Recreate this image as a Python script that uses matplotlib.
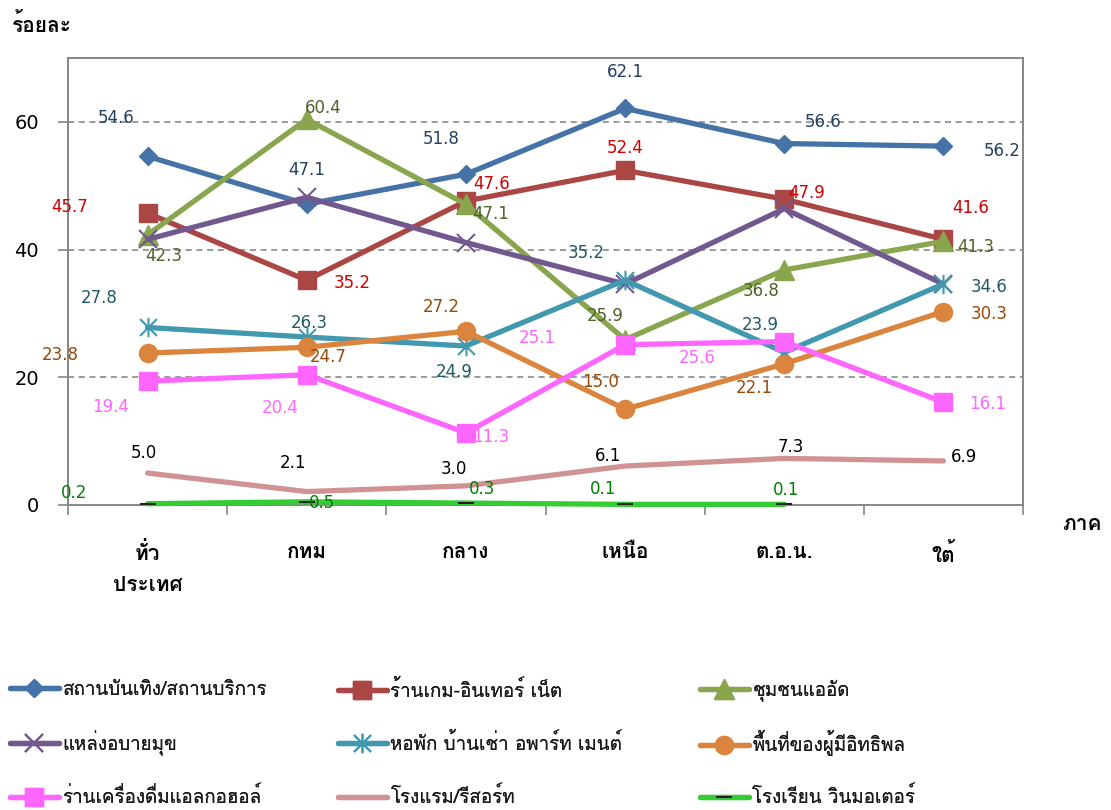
import matplotlib
matplotlib.use("Agg")
import matplotlib.pyplot as plt
from matplotlib.path import Path
from matplotlib import font_manager
from matplotlib.font_manager import FontProperties
import numpy as np

# ---------------- data ----------------
categories = ["ทั่ว\nประเทศ", "กทม", "กลาง", "เหนือ", "ต.อ.น.", "ใต้"]
entertainment = [54.6, 47.1, 51.8, 62.1, 56.6, 56.2]
game_internet = [45.7, 35.2, 47.6, 52.4, 47.9, 41.6]
slums = [42.3, 60.4, 47.1, 25.9, 36.8, 41.3]
vice_dens = [41.6, 48.2, 41.1, 34.6, 46.4, 34.6]
dormitory = [27.8, 26.3, 24.9, 35.2, 23.9, 34.6]
influential = [23.8, 24.7, 27.2, 15.0, 22.1, 30.3]
liquor_shops = [19.4, 20.4, 11.3, 25.1, 25.6, 16.1]
hotels = [5.0, 2.1, 3.0, 6.1, 7.3, 6.9]
motorbike_school = [0.2, 0.5, 0.3, 0.1, 0.1]

series_names = [
    "สถานบันเทิง/สถานบริการ",
    "ร้านเกม-อินเทอร์ เน็ต",
    "ชุมชนแออัด",
    "แหล่งอบายมุข",
    "หอพัก บ้านเช่า อพาร์ท เมนต์",
    "พื้นที่ของผู้มีอิทธิพล",
    "ร่านเครื่องดื่มแอลกอฮอล์",
    "โรงแรม/รีสอร์ท",
    "โรงเรียน วินมอเตอร์",
]
series_values = [entertainment, game_internet, slums, vice_dens, dormitory,
                 influential, liquor_shops, hotels, motorbike_school]
show_labels = [True, True, True, False, True, True, True, True, True]
y_title = "ร้อยละ"
x_title = "ภาค"
y_ticks = [0, 20, 40, 60]

# ---------------- fonts ----------------
def find_font(family, want_bold):
    for f in font_manager.fontManager.ttflist:
        if f.name != family or f.style != 'normal':
            continue
        fn = f.fname.lower()
        is_bold = 'bold' in fn
        if is_bold == want_bold and 'oblique' not in fn and 'italic' not in fn:
            return f.fname
    return None

reg_path = find_font('Loma', False)
bold_path = find_font('Loma', True)

def thai_fp(size, bold=False):
    p = bold_path if bold else reg_path
    if p:
        return FontProperties(fname=p, size=size)
    return FontProperties(family=['Loma', 'DejaVu Sans'], size=size,
                          weight='bold' if bold else 'normal')

NUM = ['DejaVu Sans']
plt.rcParams['font.family'] = ['Loma', 'DejaVu Sans']

asterisk = Path([(-1, -1), (1, 1), (-1, 1), (1, -1), (0, -1.15), (0, 1.15)],
                [Path.MOVETO, Path.LINETO, Path.MOVETO, Path.LINETO, Path.MOVETO, Path.LINETO])

styles = [
    dict(color='#4572A7', marker='D', ms=9, mec='#4572A7', mew=1),
    dict(color='#AA4643', marker='s', ms=13, mec='#AA4643', mew=1),
    dict(color='#89A54E', marker='^', ms=14, mec='#89A54E', mew=1),
    dict(color='#71588F', marker='x', ms=13, mec='#71588F', mew=1.5),
    dict(color='#4198AF', marker=asterisk, ms=14, mec='#4198AF', mew=1.5),
    dict(color='#DB843D', marker='o', ms=13, mec='#DB843D', mew=1),
    dict(color='#FF66FF', marker='s', ms=13, mec='#FF66FF', mew=1),
    dict(color='#D09292', marker=None, ms=0, mec='#D09292', mew=1),
    dict(color='#33CC33', marker='_', ms=12, mec='#222222', mew=1.5),
]
label_colors = ['#243F60', '#D00000', '#4F6228', '#5F497A', '#215967',
                '#984807', '#FF66FF', '#000000', '#008000']
# label offsets in pixels (dx, dy with dy positive = up)
label_offsets = [
    [(-31, 38), (0, 34), (-25, 35), (0, 36), (39, 22), (59, -5)],
    [(-78, 6), (45, -3), (26, 17), (0, 22), (22, 6), (27, 31)],
    [(16, -21), (16, 11), (25, -10), (-20, 24), (-23, -21), (32, -6)],
    [(0, 0)] * 6,
    [(-48, 29), (2, 14), (-12, -26), (-39, 27), (-24, 27), (46, -3)],
    [(-87, -2), (21, -10), (-25, 24), (-25, 27), (-30, -24), (46, -2)],
    [(-37, -26), (-27, -33), (25, -4), (-88, 7), (-87, -16), (44, -2)],
    [(-4, 20), (-14, 29), (-12, 17), (-17, 10), (7, 11), (21, 4)],
    [(-74, 11), (15, -1), (16, 14), (-22, 15), (2, 14)],
]

W, H = 1111, 810
fig = plt.figure(figsize=(W / 100, H / 100), dpi=100)
ax = fig.add_axes([68 / W, 1 - 505 / H, (1023 - 68) / W, (505 - 58) / H])

handles = []
for vals, name, st, show, lc, offs in zip(series_values, series_names, styles,
                                          show_labels, label_colors, label_offsets):
    x = np.arange(len(vals))
    ln, = ax.plot(x, vals, color=st['color'], lw=3.8, marker=st['marker'],
                  ms=st['ms'], mfc=st['color'] if st['marker'] not in ('x', '_', None) else 'none',
                  mec=st['mec'], mew=st['mew'], solid_capstyle='round',
                  solid_joinstyle='round', label=name, clip_on=False, zorder=3)
    handles.append(ln)
    if show:
        for xi, v, (dx, dy) in zip(x, vals, offs):
            ax.annotate(f"{v:.1f}", (xi, v), xytext=(dx, dy), textcoords='offset pixels',
                        ha='center', va='center', fontsize=12, color=lc,
                        family=NUM, zorder=5)

ax.set_xlim(-0.5, 5.5)
ax.set_ylim(0, 70)
ax.set_yticks(y_ticks)
ax.set_yticklabels([str(t) for t in y_ticks], family=NUM, fontsize=14)
ax.set_xticks(np.arange(len(categories)))
ax.set_xticklabels(categories, fontproperties=thai_fp(15, bold=True), linespacing=1.8)
ax.set_xticks(np.arange(-0.5, 5.6, 1.0), minor=True)
ax.tick_params(axis='x', which='major', length=0, pad=27)
ax.tick_params(axis='x', which='minor', length=7, width=1.2, color='#868686', direction='out')
ax.tick_params(axis='y', which='major', length=7, width=1.2, color='#868686', direction='out', pad=14)
for lab in ax.get_xticklabels():
    lab.set_verticalalignment('top')

for sp in ax.spines.values():
    sp.set_color('#868686')
    sp.set_linewidth(1.4)

for yv in [20, 40, 60]:
    ax.axhline(yv, color='#808080', lw=1.1, ls=(0, (4, 3)), zorder=1)

fig.text(12 / W, 1 - 25 / H, y_title, fontproperties=thai_fp(15, bold=True), va='center', ha='left')
fig.text(1062 / W, 1 - 525 / H, x_title, fontproperties=thai_fp(15, bold=True), va='center', ha='left')

# legend: one legend per entry on a 3x3 grid (row-major order)
col_x = [10 / W, 338 / W, 700 / W]
row_y = [1 - 690 / H, 1 - 743 / H, 1 - 797 / H]
for i, h in enumerate(handles):
    r, c = divmod(i, 3)
    lg = fig.legend(handles=[h], labels=[h.get_label()],
                    loc='center left', bbox_to_anchor=(col_x[c], row_y[r]),
                    frameon=False, prop=thai_fp(13.5), handlelength=2.6, handletextpad=0.2,
                    borderpad=0, borderaxespad=0, labelcolor='#1a1a1a')
    fig.add_artist(lg)

fig.savefig("out.png", dpi=100, facecolor='white')
